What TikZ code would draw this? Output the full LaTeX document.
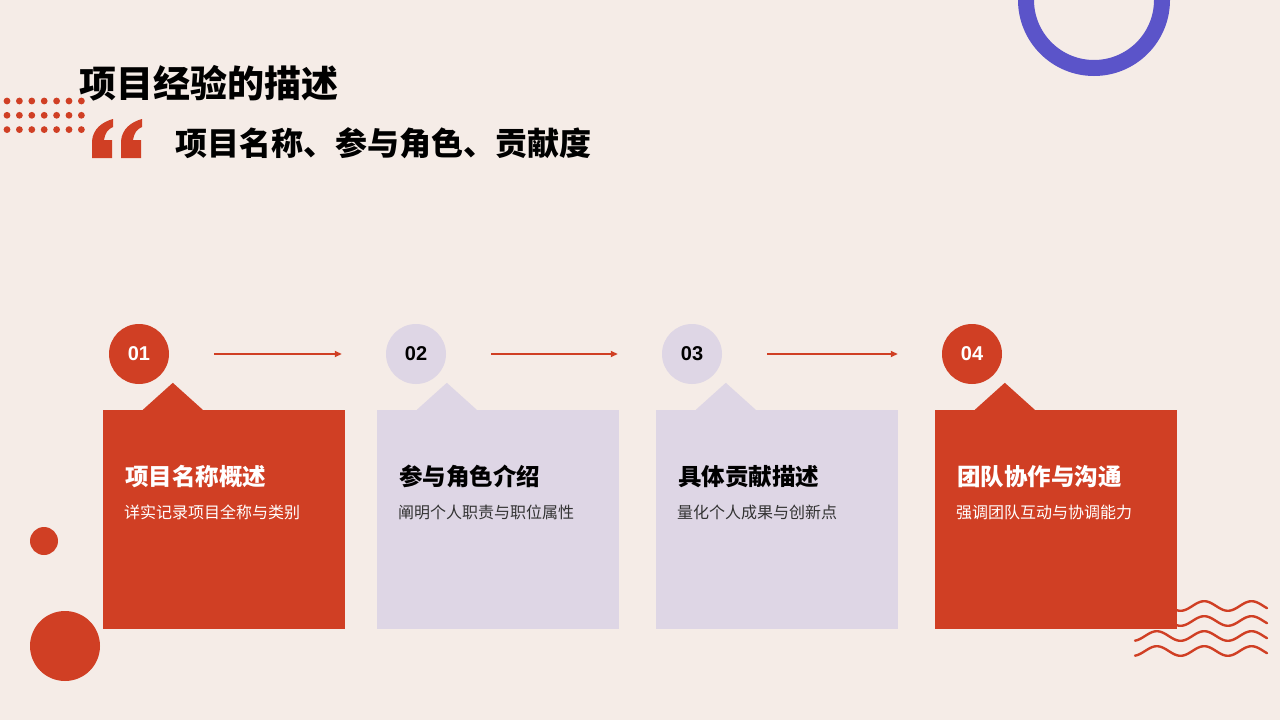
\documentclass[tikz,border=0pt]{standalone}
\usepackage{fontspec}
\setmainfont{Liberation Sans}
\newfontfamily\cjk{Noto Sans CJK SC}
\usetikzlibrary{calc, arrows.meta}

\definecolor{bgcol}{HTML}{F5ECE7}
\definecolor{accent}{HTML}{D03F24}
\definecolor{lilac}{HTML}{DED6E5}
\definecolor{ringcol}{HTML}{5B54C9}
\definecolor{subgray}{HTML}{333333}

\tikzset{
  num/.style={circle, minimum size=60pt, inner sep=0pt, font=\bfseries\fontsize{20}{20}\selectfont},
  card/.style={minimum width=242pt, minimum height=219pt, inner sep=0pt},
  flow/.style={draw=accent, line width=1.6pt, -{Triangle[length=7pt,width=6pt]},
    shorten <=45pt, shorten >=44pt},
  head/.style={anchor=west, inner sep=0pt, font=\cjk\bfseries\fontsize{23.5}{24}\selectfont},
  sub/.style={anchor=west, inner sep=0pt, font=\cjk\fontsize{16}{16}\selectfont},
}

\begin{document}
\begin{tikzpicture}[x=1pt, y=-1pt]
  \fill[bgcol] (0,0) rectangle (1280,720);
  \useasboundingbox (0,0) rectangle (1280,720);

  % ring top right
  \draw[ringcol, line width=16pt] (1094,0) circle (68pt);

  % dots
  \foreach \i in {0,...,6}
    \foreach \j in {0,1,2}
      \fill[accent] (7+12.4*\i, 101+14.3*\j) circle (3.4pt);

  % quote mark
  \foreach \dx in {0,29}
    \fill[accent, shift={(\dx,0)}] (92,158) -- (92,141) .. controls (93,129) and (102,122) .. (113,119)
      -- (113,127) .. controls (108,129) and (105,133) .. (104,140) -- (112,140) -- (112,158) -- cycle;

  \node[anchor=west, inner sep=0pt, font=\cjk\bfseries\fontsize{37}{37}\selectfont] (title) at (79,83) {项目经验的描述};
  \node[anchor=west, inner sep=0pt, font=\cjk\bfseries\fontsize{32}{32}\selectfont] (subtitle) at (175,143) {项目名称、参与角色、贡献度};

  % waves
  \foreach \y in {606,621,636,651}
    \draw[accent, line width=2.4pt, line cap=round]
      plot[domain=1135:1267, samples=70] (\x, {\y-4.8*sin((\x-1145)*7.6)});

  % left circles
  \fill[accent] (44,541) circle (14pt);
  \fill[accent] (65,646) circle (35pt);

  % cards
  \node[card, fill=accent] (b1) at (224,519.5) {};
  \node[card, fill=lilac] (b2) at (498,519.5) {};
  \node[card, fill=lilac] (b3) at (777,519.5) {};
  \node[card, fill=accent] (b4) at (1056,519.5) {};

  \fill[accent] ($(b1.north west)+(40,0)$) -- ($(b1.north west)+(70,-27)$) -- ($(b1.north west)+(100,0)$) -- cycle;
  \fill[lilac] ($(b2.north west)+(40,0)$) -- ($(b2.north west)+(70,-27)$) -- ($(b2.north west)+(100,0)$) -- cycle;
  \fill[lilac] ($(b3.north west)+(40,0)$) -- ($(b3.north west)+(70,-27)$) -- ($(b3.north west)+(100,0)$) -- cycle;
  \fill[accent] ($(b4.north west)+(40,0)$) -- ($(b4.north west)+(70,-27)$) -- ($(b4.north west)+(100,0)$) -- cycle;

  % numbers
  \node[num, fill=accent, text=white] (n1) at (139,354) {01};
  \node[num, fill=lilac, text=black] (n2) at (416,354) {02};
  \node[num, fill=lilac, text=black] (n3) at (692,354) {03};
  \node[num, fill=accent, text=white] (n4) at (972,354) {04};

  \draw[flow] (n1) -- (n2);
  \draw[flow] (n2) -- (n3);
  \draw[flow] (n3) -- (n4);

  % card texts
  \node[head, text=white] (h1) at ($(b1.north west)+(22,67)$) {项目名称概述};
  \node[sub, text=white] (s1) at ($(b1.north west)+(21,103)$) {详实记录项目全称与类别};
  \node[head, text=black] (h2) at ($(b2.north west)+(22,67)$) {参与角色介绍};
  \node[sub, text=subgray] (s2) at ($(b2.north west)+(21,103)$) {阐明个人职责与职位属性};
  \node[head, text=black] (h3) at ($(b3.north west)+(22,67)$) {具体贡献描述};
  \node[sub, text=subgray] (s3) at ($(b3.north west)+(21,103)$) {量化个人成果与创新点};
  \node[head, text=white] (h4) at ($(b4.north west)+(22,67)$) {团队协作与沟通};
  \node[sub, text=white] (s4) at ($(b4.north west)+(21,103)$) {强调团队互动与协调能力};
\end{tikzpicture}
\end{document}
